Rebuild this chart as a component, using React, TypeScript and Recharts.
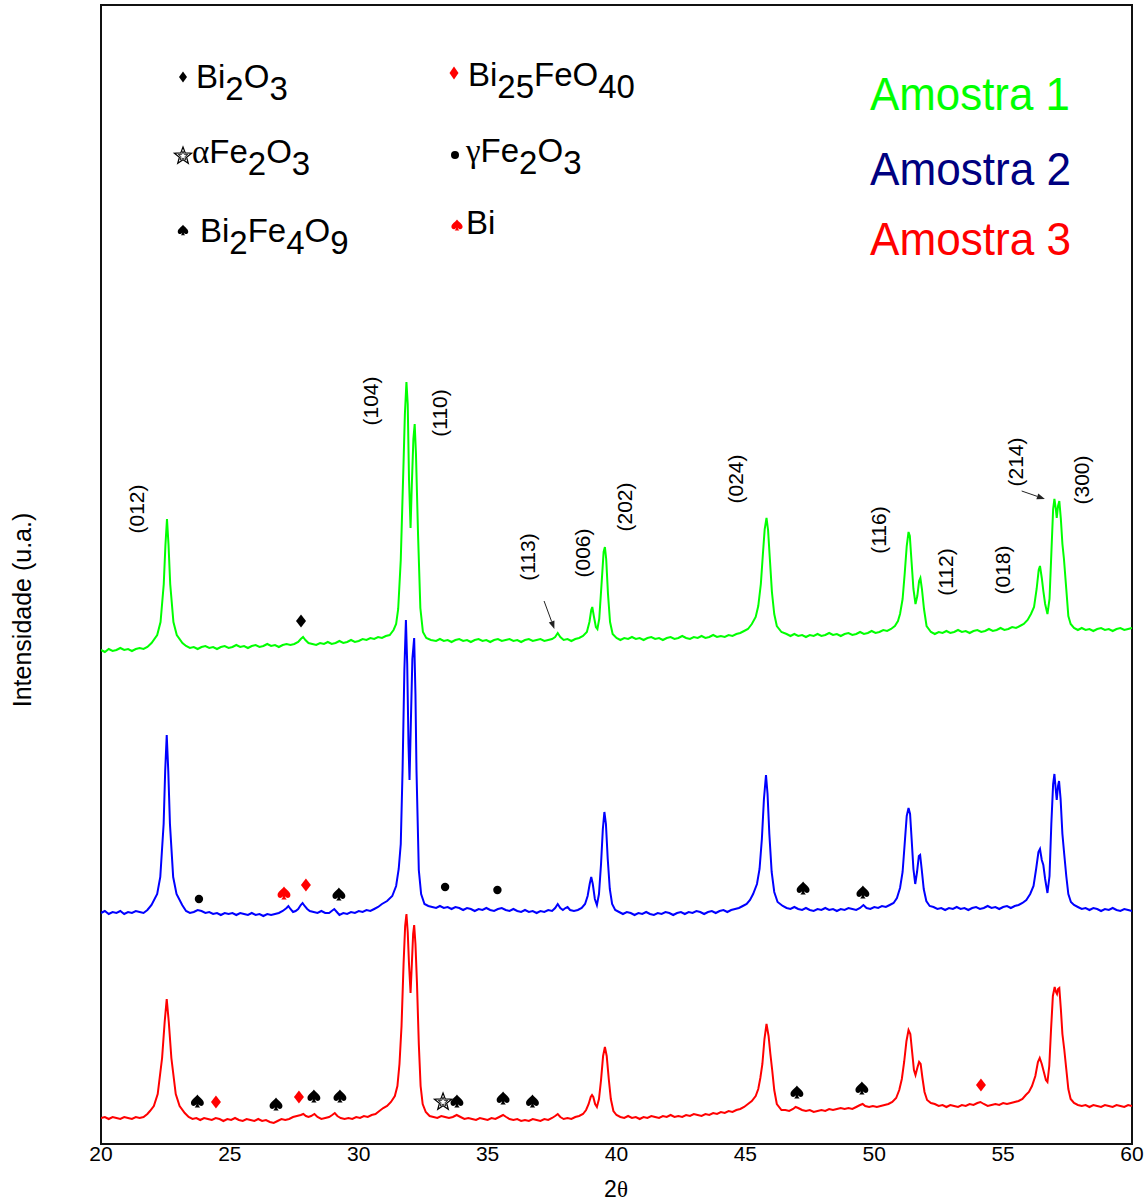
import React from "react";
import {
  ComposedChart,
  Line,
  Scatter,
  XAxis,
  YAxis,
  ReferenceArea,
  ReferenceLine,
} from "recharts";

type P = [number, number];

// ---- X axis ticks (2θ) ----
const xTicks = [20, 25, 30, 35, 40, 45, 50, 55, 60];

// ---- Amostra 1 (green), offset intensity ----
const amostra1: P[] = [
  [20.0, 494], [20.15, 492], [20.3, 495], [20.45, 493], [20.6, 494], [20.75, 496], [20.9, 494], [21.05, 495], [21.2, 493], [21.35, 495], [21.5, 496], [21.65, 495], [21.8, 497],
  [21.96, 501], [22.18, 509], [22.31, 522], [22.435, 560], [22.5, 599], [22.56, 625], [22.62, 599], [22.685, 560], [22.81, 522], [22.94, 509], [23.16, 501],
  [23.3, 498], [23.45, 496], [23.6, 497], [23.75, 495], [23.9, 497], [24.05, 498], [24.2, 496], [24.35, 497], [24.5, 495], [24.65, 497], [24.8, 498], [24.95, 496], [25.1, 497], [25.25, 499], [25.4, 497], [25.55, 498], [25.7, 496], [25.85, 498], [26.0, 499], [26.15, 497], [26.3, 498], [26.45, 500], [26.6, 498], [26.75, 499], [26.9, 497], [27.05, 499], [27.2, 500], [27.35, 499], [27.5, 500],
  [27.65, 502], [27.75, 505], [27.84, 507], [27.93, 504], [28.05, 501],
  [28.2, 500], [28.35, 499], [28.5, 501], [28.65, 500], [28.8, 502], [28.95, 500], [29.1, 501], [29.25, 503], [29.4, 501], [29.55, 502], [29.7, 504], [29.85, 502], [30.0, 503], [30.15, 505], [30.3, 504], [30.45, 506], [30.6, 505], [30.75, 507], [30.9, 506], [31.05, 508], [31.2, 509],
  [31.35, 514], [31.45, 520], [31.53, 535], [31.63, 584], [31.73, 674], [31.79, 730], [31.85, 762], [31.9, 740], [31.95, 665], [32.01, 616], [32.06, 660], [32.12, 705], [32.17, 720], [32.22, 690], [32.3, 610], [32.39, 536], [32.49, 512], [32.62, 506], [32.8, 504],
  [33.0, 503], [33.15, 505], [33.3, 503], [33.45, 504], [33.6, 502], [33.75, 504], [33.9, 505], [34.05, 503], [34.2, 504], [34.35, 502], [34.5, 504], [34.65, 505], [34.8, 503], [34.95, 504], [35.1, 502], [35.25, 504], [35.4, 505], [35.55, 503], [35.7, 504], [35.85, 505], [36.0, 503], [36.15, 504], [36.3, 502], [36.45, 504], [36.6, 505], [36.75, 503], [36.9, 504], [37.05, 505], [37.2, 503], [37.35, 504], [37.5, 505],
  [37.62, 507], [37.72, 511], [37.82, 507], [37.95, 504],
  [38.1, 505], [38.25, 503], [38.4, 505], [38.55, 506], [38.7, 508],
  [38.85, 512], [38.95, 522], [39.02, 534], [39.06, 537], [39.12, 528], [39.2, 517], [39.26, 515], [39.33, 525], [39.42, 560], [39.5, 592], [39.55, 597], [39.6, 585], [39.67, 550], [39.75, 522], [39.85, 510], [40.0, 506],
  [40.15, 504], [40.3, 506], [40.45, 505], [40.6, 507], [40.75, 505], [40.9, 506], [41.05, 504], [41.2, 506], [41.35, 507], [41.5, 505], [41.65, 506], [41.8, 504], [41.95, 506], [42.1, 507], [42.25, 505], [42.4, 506], [42.55, 508], [42.7, 506], [42.85, 505], [43.0, 507], [43.15, 506], [43.3, 508], [43.45, 506], [43.6, 507], [43.75, 509], [43.9, 507], [44.05, 508], [44.2, 507], [44.35, 509], [44.5, 508], [44.65, 510], [44.8, 511], [44.95, 513], [45.1, 515],
  [45.25, 520], [45.4, 527], [45.5, 538], [45.6, 560], [45.68, 590], [45.75, 615], [45.82, 626], [45.88, 614], [45.95, 585], [46.03, 552], [46.12, 530], [46.22, 518], [46.4, 512], [46.6, 510],
  [46.75, 508], [46.9, 510], [47.05, 508], [47.2, 509], [47.35, 507], [47.5, 509], [47.65, 508], [47.8, 510], [47.95, 508], [48.1, 509], [48.25, 511], [48.4, 509], [48.55, 510], [48.7, 508], [48.85, 510], [49.0, 511], [49.15, 509], [49.3, 510], [49.45, 512], [49.6, 510], [49.75, 511], [49.9, 513], [50.05, 511], [50.2, 512], [50.35, 514], [50.5, 513], [50.65, 515], [50.8, 518], [50.92, 523],
  [51.0, 530], [51.1, 545], [51.18, 570], [51.26, 598], [51.33, 612], [51.38, 608], [51.44, 585], [51.52, 555], [51.6, 540], [51.67, 548], [51.74, 563], [51.79, 566], [51.85, 555], [51.93, 535], [52.03, 518], [52.2, 512],
  [52.35, 510], [52.5, 512], [52.65, 511], [52.8, 513], [52.95, 511], [53.1, 512], [53.25, 514], [53.4, 512], [53.55, 513], [53.7, 511], [53.85, 513], [54.0, 514], [54.15, 512], [54.3, 513], [54.45, 515], [54.6, 513], [54.75, 514], [54.9, 516], [55.05, 514], [55.2, 515], [55.35, 517], [55.5, 516], [55.65, 518], [55.8, 520], [55.95, 524], [56.08, 530],
  [56.2, 537], [56.3, 555], [56.38, 574], [56.43, 578], [56.5, 566], [56.56, 553], [56.63, 540], [56.72, 530], [56.8, 545], [56.87, 590], [56.94, 635], [56.99, 645], [57.04, 636], [57.08, 626], [57.13, 638], [57.18, 643], [57.24, 625], [57.3, 600], [57.36, 585], [57.45, 555], [57.53, 528], [57.62, 520], [57.75, 516],
  [57.9, 514], [58.05, 516], [58.2, 514], [58.35, 515], [58.5, 513], [58.65, 515], [58.8, 516], [58.95, 514], [59.1, 515], [59.25, 513], [59.4, 515], [59.55, 516], [59.7, 514], [59.85, 515], [60.0, 516],
];

// ---- Amostra 2 (blue) ----
const amostra2: P[] = [
  [20.0, 231], [20.15, 233], [20.3, 230], [20.45, 232], [20.6, 231], [20.75, 233], [20.9, 230], [21.05, 232], [21.2, 231], [21.35, 233], [21.5, 232], [21.65, 231], [21.8, 234],
  [21.96, 239], [22.18, 250], [22.3, 267], [22.43, 320], [22.49, 373], [22.55, 409], [22.61, 373], [22.675, 320], [22.8, 267], [22.93, 250], [23.15, 239],
  [23.3, 233], [23.45, 231], [23.6, 232], [23.75, 234], [23.9, 233], [24.05, 231], [24.2, 232], [24.35, 230], [24.5, 231], [24.65, 229], [24.8, 231], [24.95, 230], [25.1, 231], [25.25, 229], [25.4, 231], [25.55, 230], [25.7, 229], [25.85, 231], [26.0, 229], [26.15, 230], [26.3, 228], [26.45, 230], [26.6, 229], [26.75, 230], [26.9, 231], [27.05, 233],
  [27.2, 236], [27.27, 238], [27.35, 235], [27.45, 232], [27.55, 233], [27.65, 235],
  [27.75, 239], [27.82, 241], [27.9, 238], [28.0, 235], [28.1, 233], [28.25, 232], [28.4, 231], [28.55, 233], [28.7, 231], [28.85, 231], [28.95, 233], [29.05, 235], [29.15, 232], [29.25, 229], [29.4, 231], [29.55, 230], [29.7, 232], [29.85, 231], [30.0, 233], [30.15, 232], [30.3, 234], [30.45, 233], [30.6, 235], [30.75, 237], [30.9, 240],
  [31.1, 243], [31.3, 248], [31.45, 258], [31.55, 275], [31.63, 300], [31.7, 374], [31.77, 474], [31.83, 524], [31.88, 480], [31.93, 400], [31.97, 364], [32.02, 420], [32.08, 485], [32.15, 506], [32.2, 450], [32.24, 374], [32.33, 274], [32.42, 250], [32.55, 240], [32.7, 238],
  [32.85, 237], [33.0, 236], [33.15, 238], [33.3, 236], [33.45, 237], [33.6, 235], [33.75, 237], [33.9, 236], [34.05, 234], [34.2, 236], [34.35, 235], [34.5, 233], [34.65, 235], [34.8, 234], [34.95, 236], [35.1, 234], [35.25, 233], [35.4, 235], [35.55, 236], [35.7, 234], [35.85, 233], [36.0, 235], [36.15, 233], [36.3, 232], [36.45, 234], [36.6, 232], [36.75, 233], [36.9, 231], [37.05, 233], [37.2, 232], [37.35, 234], [37.5, 233],
  [37.62, 236], [37.72, 240], [37.82, 236], [37.92, 234], [38.02, 236], [38.1, 237], [38.2, 234], [38.35, 233], [38.5, 234], [38.65, 236], [38.78, 240],
  [38.88, 248], [38.96, 260], [39.02, 267], [39.08, 260], [39.16, 245], [39.24, 239], [39.32, 250], [39.4, 280], [39.47, 315], [39.53, 332], [39.59, 320], [39.66, 285], [39.74, 255], [39.83, 240], [39.95, 234],
  [40.1, 232], [40.25, 230], [40.4, 232], [40.55, 231], [40.7, 229], [40.85, 231], [41.0, 230], [41.15, 232], [41.3, 230], [41.45, 229], [41.6, 231], [41.75, 230], [41.9, 232], [42.05, 231], [42.2, 229], [42.35, 231], [42.5, 232], [42.65, 230], [42.8, 232], [42.95, 231], [43.1, 233], [43.25, 232], [43.4, 230], [43.55, 232], [43.7, 233], [43.85, 231], [44.0, 233], [44.15, 234], [44.3, 232], [44.45, 234], [44.6, 235], [44.75, 236], [44.9, 238], [45.05, 240], [45.18, 244],
  [45.3, 250], [45.45, 260], [45.55, 275], [45.64, 305], [45.72, 345], [45.8, 369], [45.86, 350], [45.93, 310], [46.02, 272], [46.12, 252], [46.25, 242], [46.45, 238],
  [46.6, 236], [46.75, 235], [46.9, 237], [47.05, 235], [47.2, 234], [47.35, 236], [47.5, 234], [47.65, 233], [47.8, 235], [47.95, 234], [48.1, 236], [48.25, 234], [48.4, 235], [48.55, 233], [48.7, 235], [48.85, 234], [49.0, 236], [49.15, 235], [49.3, 234], [49.45, 236], [49.58, 239], [49.7, 236], [49.85, 235], [50.0, 237], [50.15, 236], [50.3, 238], [50.45, 237], [50.6, 239], [50.75, 241], [50.88, 246],
  [51.0, 256], [51.1, 272], [51.18, 300], [51.26, 328], [51.33, 336], [51.39, 330], [51.45, 305], [51.52, 275], [51.59, 260], [51.66, 272], [51.73, 288], [51.78, 289], [51.84, 275], [51.92, 255], [52.02, 243], [52.15, 238],
  [52.3, 237], [52.45, 235], [52.6, 236], [52.75, 234], [52.9, 236], [53.05, 235], [53.2, 237], [53.35, 235], [53.5, 236], [53.65, 234], [53.8, 236], [53.95, 237], [54.1, 235], [54.25, 236], [54.4, 238], [54.55, 236], [54.7, 237], [54.85, 235], [55.0, 237], [55.15, 238], [55.3, 236], [55.45, 238], [55.6, 239], [55.75, 241], [55.9, 244], [56.05, 250],
  [56.18, 258], [56.28, 275], [56.37, 292], [56.43, 295], [56.5, 284], [56.56, 279], [56.63, 265], [56.72, 251], [56.8, 268], [56.87, 320], [56.94, 360], [56.99, 370], [57.04, 355], [57.08, 344], [57.13, 358], [57.17, 363], [57.23, 345], [57.3, 310], [57.37, 290], [57.45, 268], [57.53, 250], [57.63, 242], [57.75, 239],
  [57.9, 237], [58.05, 235], [58.2, 236], [58.35, 234], [58.5, 236], [58.65, 235], [58.8, 233], [58.95, 235], [59.1, 234], [59.25, 236], [59.4, 234], [59.55, 233], [59.7, 235], [59.85, 234], [60.0, 233],
];

// ---- Amostra 3 (red) ----
const amostra3: P[] = [
  [20.0, 26], [20.15, 27], [20.3, 25], [20.45, 27], [20.6, 26], [20.75, 25], [20.9, 27], [21.05, 26], [21.2, 25], [21.35, 27], [21.5, 26], [21.65, 27], [21.8, 30],
  [21.9, 33], [22.05, 38], [22.2, 50], [22.37, 86], [22.47, 122], [22.55, 145], [22.63, 122], [22.73, 86], [22.9, 50], [23.05, 38], [23.25, 31],
  [23.4, 27], [23.55, 25], [23.7, 26], [23.85, 24], [24.0, 26], [24.15, 25], [24.3, 24], [24.45, 26], [24.6, 25], [24.75, 23], [24.9, 25], [25.05, 24], [25.2, 26], [25.35, 24], [25.5, 23], [25.65, 25], [25.8, 24], [25.95, 23], [26.1, 25], [26.25, 23], [26.4, 24], [26.55, 22], [26.7, 21], [26.85, 23], [27.0, 25], [27.15, 24], [27.3, 25], [27.45, 27], [27.6, 28], [27.75, 29], [27.85, 30], [27.95, 28], [28.05, 27], [28.15, 28], [28.28, 30], [28.4, 27], [28.55, 25], [28.7, 26], [28.85, 27], [28.97, 29], [29.07, 31], [29.17, 28], [29.3, 26], [29.45, 25], [29.6, 26], [29.75, 25], [29.9, 27], [30.05, 26], [30.2, 28], [30.35, 27], [30.5, 29], [30.65, 30], [30.8, 33], [30.95, 36],
  [31.1, 38], [31.25, 42], [31.4, 48], [31.5, 58], [31.58, 80], [31.66, 118], [31.74, 181], [31.8, 218], [31.85, 230], [31.9, 212], [31.95, 180], [32.01, 151], [32.06, 180], [32.11, 210], [32.15, 219], [32.2, 200], [32.26, 160], [32.33, 100], [32.4, 58], [32.48, 40], [32.6, 32], [32.75, 28],
  [32.9, 27], [33.05, 26], [33.2, 28], [33.35, 27], [33.5, 26], [33.65, 27], [33.8, 29], [33.95, 27], [34.1, 25], [34.25, 26], [34.4, 25], [34.55, 24], [34.7, 26], [34.85, 25], [35.0, 24], [35.15, 26], [35.3, 25], [35.45, 27], [35.6, 29], [35.72, 27], [35.85, 25], [36.0, 24], [36.15, 25], [36.3, 23], [36.45, 24], [36.6, 23], [36.75, 25], [36.9, 24], [37.05, 23], [37.2, 25], [37.35, 24], [37.5, 26], [37.62, 28], [37.72, 30], [37.82, 27], [37.95, 25], [38.1, 26], [38.25, 25], [38.4, 27], [38.55, 28], [38.7, 30], [38.82, 34],
  [38.92, 40], [39.0, 47], [39.05, 49], [39.1, 47], [39.17, 40], [39.24, 37], [39.32, 45], [39.4, 64], [39.48, 88], [39.55, 97], [39.62, 88], [39.7, 65], [39.78, 45], [39.88, 33], [40.0, 29],
  [40.15, 27], [40.3, 26], [40.45, 28], [40.6, 26], [40.75, 27], [40.9, 25], [41.05, 27], [41.2, 26], [41.35, 28], [41.5, 27], [41.65, 26], [41.8, 28], [41.95, 27], [42.1, 29], [42.25, 27], [42.4, 28], [42.55, 27], [42.7, 29], [42.85, 28], [43.0, 30], [43.15, 29], [43.3, 28], [43.45, 30], [43.6, 29], [43.75, 31], [43.9, 30], [44.05, 32], [44.2, 31], [44.35, 33], [44.5, 32], [44.65, 34], [44.8, 35], [44.95, 37], [45.1, 40], [45.25, 43],
  [45.4, 48], [45.5, 55], [45.58, 66], [45.66, 80], [45.74, 105], [45.82, 120], [45.9, 108], [45.97, 90], [46.04, 74], [46.12, 54], [46.22, 40], [46.4, 34],
  [46.55, 34], [46.7, 33], [46.85, 35], [46.95, 37], [47.05, 36], [47.2, 34], [47.35, 33], [47.5, 34], [47.65, 32], [47.8, 33], [47.95, 34], [48.1, 33], [48.25, 35], [48.4, 34], [48.55, 35], [48.7, 36], [48.85, 35], [49.0, 36], [49.15, 35], [49.3, 37], [49.45, 39], [49.55, 40], [49.65, 38], [49.8, 37], [49.95, 38], [50.1, 37], [50.25, 38], [50.4, 39], [50.55, 40], [50.7, 42], [50.85, 46],
  [50.97, 54], [51.07, 65], [51.16, 82], [51.25, 103], [51.33, 114], [51.4, 110], [51.47, 92], [51.54, 74], [51.6, 69], [51.67, 76], [51.74, 82], [51.8, 80], [51.87, 66], [51.95, 52], [52.05, 44], [52.2, 41],
  [52.35, 40], [52.5, 38], [52.65, 39], [52.8, 37], [52.95, 39], [53.1, 38], [53.25, 37], [53.4, 39], [53.55, 38], [53.7, 40], [53.85, 39], [54.0, 41], [54.12, 42], [54.25, 40], [54.4, 38], [54.55, 39], [54.7, 40], [54.85, 39], [55.0, 41], [55.15, 40], [55.3, 41], [55.45, 42], [55.6, 43], [55.75, 45], [55.88, 49],
  [56.0, 52], [56.12, 58], [56.25, 68], [56.35, 82], [56.42, 86], [56.5, 80], [56.58, 72], [56.66, 64], [56.72, 62], [56.79, 78], [56.86, 115], [56.93, 148], [57.0, 157], [57.05, 152], [57.09, 150], [57.13, 155], [57.18, 156], [57.24, 135], [57.3, 110], [57.37, 95], [57.45, 75], [57.53, 55], [57.62, 45], [57.75, 41],
  [57.9, 39], [58.05, 38], [58.2, 39], [58.35, 37], [58.5, 39], [58.65, 38], [58.8, 37], [58.95, 39], [59.1, 38], [59.25, 37], [59.4, 39], [59.55, 38], [59.7, 37], [59.85, 39], [60.0, 38],
];

// ---- phase markers (2θ, intensity) ----
const markBi2O3: P[] = [[27.76, 523]];
const markBi25FeO40: P[] = [[27.95, 259], [24.46, 42], [27.68, 47], [54.14, 59]];
const markAlphaFe2O3: P[] = [[33.27, 42]];
const markGammaFe2O3: P[] = [[23.8, 245], [33.35, 257], [35.38, 254]];
const markBi2Fe4O9: P[] = [
  [29.23, 250], [47.24, 256], [49.56, 252],
  [23.74, 43], [26.79, 40], [28.26, 48], [29.27, 48], [33.81, 43], [35.6, 46], [36.74, 43], [47.0, 52], [49.52, 56],
];
const markBi: P[] = [[27.1, 251]];

// ---- (hkl) labels ----
const hklLabels: { x: number; y: number; t: string }[] = [
  { x: 21.38, y: 635, t: "(012)" },
  { x: 30.44, y: 743, t: "(104)" },
  { x: 33.15, y: 731, t: "(110)" },
  { x: 36.53, y: 587, t: "(113)" },
  { x: 38.68, y: 591, t: "(006)" },
  { x: 40.31, y: 637, t: "(202)" },
  { x: 44.62, y: 665, t: "(024)" },
  { x: 50.18, y: 614, t: "(116)" },
  { x: 52.76, y: 572, t: "(112)" },
  { x: 54.98, y: 574, t: "(018)" },
  { x: 55.48, y: 682, t: "(214)" },
  { x: 58.06, y: 664, t: "(300)" },
];

// ---- arrows (from -> to) ----
const arrows: [P, P][] = [
  [[37.19, 543], [37.59, 515]],
  [[55.72, 653], [56.62, 645]],
];

const toPts = (a: P[]) => a.map(([x, y]) => ({ x, y }));

const FONT = "'Liberation Sans', Arial, Helvetica, sans-serif";
const SERIF = "'Liberation Serif', 'Times New Roman', serif";

const spadePath =
  "M0,-7 C2.5,-3.5 7,-1.5 7,2.2 C7,4.8 4.6,6 2.6,5 C1.7,4.5 1.2,3.8 1,3.2 C1.3,4.8 2,6.2 3,7 L-3,7 C-2,6.2 -1.3,4.8 -1,3.2 C-1.2,3.8 -1.7,4.5 -2.6,5 C-4.6,6 -7,4.8 -7,2.2 C-7,-1.5 -2.5,-3.5 0,-7 Z";

const Spade = ({ cx, cy, color, s = 0.92 }: any) => (
  <path d={spadePath} transform={`translate(${cx},${cy}) scale(${s})`} fill={color} />
);
const Diamond = ({ cx, cy, color, w = 5, h = 6.5 }: any) => (
  <polygon points={`${cx},${cy - h} ${cx + w},${cy} ${cx},${cy + h} ${cx - w},${cy}`} fill={color} />
);
const Dot = ({ cx, cy, r = 4.2 }: any) => <circle cx={cx} cy={cy} r={r} fill="#000" />;
const Star = ({ cx, cy, R = 9 }: any) => {
  const pts: string[] = [];
  const inner: string[] = [];
  for (let i = 0; i < 10; i++) {
    const a = -Math.PI / 2 + (i * Math.PI) / 5;
    const r = i % 2 === 0 ? R : R * 0.42;
    pts.push(`${cx + r * Math.cos(a)},${cy + r * Math.sin(a)}`);
    const ri = i % 2 === 0 ? R * 0.55 : R * 0.23;
    inner.push(`${cx + ri * Math.cos(a)},${cy + ri * Math.sin(a)}`);
  }
  return (
    <g>
      <polygon points={pts.join(" ")} fill="#fff" stroke="#000" strokeWidth={1.2} />
      <polygon points={inner.join(" ")} fill="none" stroke="#000" strokeWidth={0.8} />
    </g>
  );
};

const HklShape = (props: any) => {
  const { cx, cy, payload } = props;
  return (
    <text
      x={cx}
      y={cy}
      transform={`rotate(-90 ${cx} ${cy})`}
      textAnchor="middle"
      dominantBaseline="central"
      fontFamily={FONT}
      fontSize={21}
      fill="#000"
    >
      {payload.t}
    </text>
  );
};

const ArrowShape = (props: any) => {
  const { x1, y1, x2, y2 } = props;
  if ([x1, y1, x2, y2].some((v: any) => typeof v !== "number" || isNaN(v))) return null;
  const ang = Math.atan2(y2 - y1, x2 - x1);
  const L = 8;
  const W = 3;
  const bx = x2 - L * Math.cos(ang);
  const by = y2 - L * Math.sin(ang);
  const px = -Math.sin(ang) * W;
  const py = Math.cos(ang) * W;
  return (
    <g>
      <line x1={x1} y1={y1} x2={bx} y2={by} stroke="#222" strokeWidth={1} />
      <polygon points={`${x2},${y2} ${bx + px},${by + py} ${bx - px},${by - py}`} fill="#222" />
    </g>
  );
};

export default function App() {
  const lineCommon = {
    dataKey: "y",
    type: "linear" as const,
    dot: false,
    activeDot: false,
    strokeWidth: 2,
    isAnimationActive: false,
    legendType: "none" as const,
  };
  const D = 12; // subscript drop
  const LF = 33; // legend font size
  return (
    <div style={{ position: "absolute", left: 0, top: 0, width: 1148, height: 1201, background: "#fff" }}>
      <ComposedChart width={1148} height={1201} margin={{ top: 5, right: 16, bottom: 0, left: 101 }}>
        <XAxis
          type="number"
          dataKey="x"
          domain={[20, 60]}
          ticks={xTicks}
          allowDataOverflow
          axisLine={false}
          tickLine={false}
          tickSize={0}
          tickMargin={2}
          height={57}
          interval={0}
          tick={{ fontSize: 21, fill: "#000", fontFamily: FONT }}
        />
        <YAxis type="number" dataKey="y" domain={[0, 1139]} allowDataOverflow hide width={0} />
        <ReferenceArea x1={20} x2={60} y1={0} y2={1139} fill="none" fillOpacity={0} stroke="#111" strokeWidth={2} />
        <Line data={toPts(amostra1)} stroke="#00FF00" {...lineCommon} />
        <Line data={toPts(amostra2)} stroke="#0000FF" {...lineCommon} />
        <Line data={toPts(amostra3)} stroke="#FF0000" {...lineCommon} />
        <Scatter data={toPts(markBi2O3)} isAnimationActive={false} shape={(p: any) => <Diamond cx={p.cx} cy={p.cy} color="#000" />} />
        <Scatter data={toPts(markBi25FeO40)} isAnimationActive={false} shape={(p: any) => <Diamond cx={p.cx} cy={p.cy} color="#FF0000" />} />
        <Scatter data={toPts(markAlphaFe2O3)} isAnimationActive={false} shape={(p: any) => <Star cx={p.cx} cy={p.cy} />} />
        <Scatter data={toPts(markGammaFe2O3)} isAnimationActive={false} shape={(p: any) => <Dot cx={p.cx} cy={p.cy} />} />
        <Scatter data={toPts(markBi2Fe4O9)} isAnimationActive={false} shape={(p: any) => <Spade cx={p.cx} cy={p.cy} color="#000" />} />
        <Scatter data={toPts(markBi)} isAnimationActive={false} shape={(p: any) => <Spade cx={p.cx} cy={p.cy} color="#FF0000" />} />
        <Scatter data={hklLabels} isAnimationActive={false} shape={HklShape} />
        {arrows.map(([a, b], i) => (
          <ReferenceLine
            key={i}
            segment={[{ x: a[0], y: a[1] }, { x: b[0], y: b[1] }]}
            stroke="#222"
            shape={ArrowShape}
            ifOverflow="visible"
          />
        ))}
      </ComposedChart>
      <svg
        width={1148}
        height={1201}
        style={{ position: "absolute", left: 0, top: 0, pointerEvents: "none" }}
      >
        {/* legend of phases */}
        <Diamond cx={183} cy={77} color="#000" w={4} h={5.5} />
        <text x={196} y={88} fontFamily={FONT} fontSize={LF} fill="#000">
          Bi<tspan dy={D}>2</tspan><tspan dy={-D}>O</tspan><tspan dy={D}>3</tspan>
        </text>
        <Diamond cx={454} cy={73} color="#FF0000" w={4.5} h={6.5} />
        <text x={468} y={86} fontFamily={FONT} fontSize={LF} fill="#000">
          Bi<tspan dy={D}>25</tspan><tspan dy={-D}>FeO</tspan><tspan dy={D}>40</tspan>
        </text>
        <Star cx={183} cy={156} R={9} />
        <text x={192} y={163} fontFamily={FONT} fontSize={LF} fill="#000">
          <tspan fontFamily={SERIF}>α</tspan>Fe<tspan dy={D}>2</tspan><tspan dy={-D}>O</tspan><tspan dy={D}>3</tspan>
        </text>
        <circle cx={455} cy={155} r={4} fill="#000" />
        <text x={466} y={162} fontFamily={FONT} fontSize={LF} fill="#000">
          <tspan fontFamily={SERIF}>γ</tspan>Fe<tspan dy={D}>2</tspan><tspan dy={-D}>O</tspan><tspan dy={D}>3</tspan>
        </text>
        <Spade cx={183} cy={230} color="#000" s={0.75} />
        <text x={200} y={242} fontFamily={FONT} fontSize={LF} fill="#000">
          Bi<tspan dy={D}>2</tspan><tspan dy={-D}>Fe</tspan><tspan dy={D}>4</tspan><tspan dy={-D}>O</tspan><tspan dy={D}>9</tspan>
        </text>
        <Spade cx={457} cy={225} color="#FF0000" s={0.8} />
        <text x={466} y={234} fontFamily={FONT} fontSize={LF} fill="#000">Bi</text>

        {/* sample labels */}
        <text x={870} y={110} fontFamily={FONT} fontSize={46} fill="#00FF00" textLength={200} lengthAdjust="spacingAndGlyphs">Amostra 1</text>
        <text x={870} y={185} fontFamily={FONT} fontSize={46} fill="#000080" textLength={201} lengthAdjust="spacingAndGlyphs">Amostra 2</text>
        <text x={870} y={255} fontFamily={FONT} fontSize={46} fill="#FF0000" textLength={201} lengthAdjust="spacingAndGlyphs">Amostra 3</text>

        {/* axis titles */}
        <text
          x={22}
          y={610}
          transform="rotate(-90 22 610)"
          textAnchor="middle"
          dominantBaseline="central"
          fontFamily={FONT}
          fontSize={25}
          fill="#000"
        >
          Intensidade (u.a.)
        </text>
        <text x={616} y={1197} textAnchor="middle" fontFamily={FONT} fontSize={23} fill="#000">
          2<tspan fontFamily={SERIF}>θ</tspan>
        </text>
      </svg>
    </div>
  );
}
